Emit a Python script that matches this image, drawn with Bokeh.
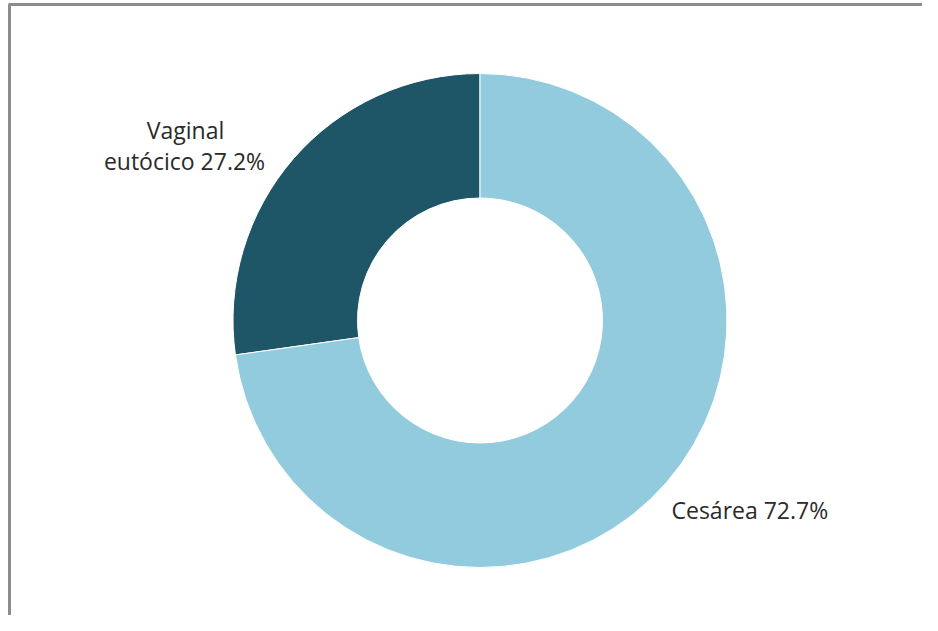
import numpy as np
from bokeh.plotting import figure
from bokeh.models import Range1d, ColumnDataSource
from bokeh.core.properties import value
from bokeh.embed import file_html
from bokeh.resources import INLINE

categories = ["Vaginal eutócico", "Cesárea"]
percentages = [27.2, 72.7]
label_texts = ["Vaginal\neutócico 27.2%", "Cesárea 72.7%"]
colors = ["#1e5668", "#92cbdd"]

W, H = 922, 615
p = figure(width=W, height=H, output_backend="svg", toolbar_location=None,
           x_range=Range1d(0, W), y_range=Range1d(0, H),
           min_border=0)
p.axis.visible = False
p.grid.visible = False
p.outline_line_color = None
p.background_fill_color = "white"
p.border_fill_color = "white"

def Y(sy):
    return H - sy

cx, cy = 479.5, Y(320)
r_out, r_in = 247, 122.5

vals = np.array(percentages, dtype=float)
frac = vals / vals.sum()
starts = np.pi / 2 + 2 * np.pi * np.concatenate([[0], np.cumsum(frac)[:-1]])
ends = np.pi / 2 + 2 * np.pi * np.cumsum(frac)

src = ColumnDataSource(dict(start=starts, end=ends, color=colors, cat=categories))
p.annular_wedge(x=cx, y=cy, inner_radius=r_in, outer_radius=r_out,
                start_angle="start", end_angle="end", fill_color="color",
                line_color="white", line_width=1, source=src)

# labels (positions are layout)
vag_lines = label_texts[0].split("\n")
p.text(x=[185, 184], y=[Y(129), Y(160)], text=vag_lines, text_align="center",
       text_baseline="middle", text_font=value("Open Sans"), text_font_size="23px",
       text_color="#2a2a2a")
p.text(x=[671], y=[Y(509)], text=[label_texts[1]], text_align="left",
       text_baseline="middle", text_font=value("Open Sans"), text_font_size="23px",
       text_color="#2a2a2a")

# frame border (top and left only visible)
p.segment(x0=[8, 9], y0=[Y(4), Y(H)], x1=[W, 9], y1=[Y(4), Y(4)],
          line_color="#8c8c8c", line_width=3)

open("out.html", "w").write(file_html(p, INLINE))
